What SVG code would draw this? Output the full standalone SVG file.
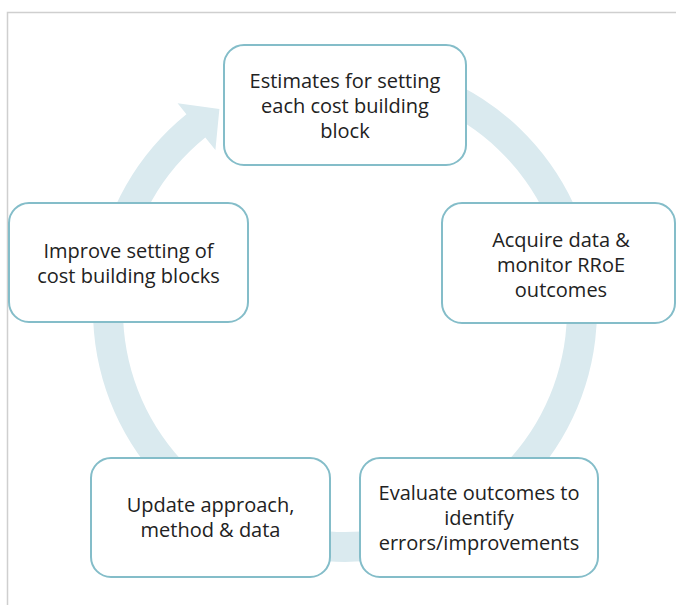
<svg xmlns="http://www.w3.org/2000/svg" width="676" height="605" viewBox="0 0 676 605">
  <style>
    .frame { fill: none; stroke: #cfcfcf; stroke-width: 1.5; }
    .ring { fill: #daeaef; stroke: none; }
    .box { fill: #ffffff; stroke: #84bdc9; stroke-width: 2; }
    .lbl { font-family: "Open Sans", "Noto Sans", sans-serif; font-size: 20px; fill: #222222; text-anchor: middle; }
  </style>
  <rect x="0" y="0" width="676" height="605" fill="#ffffff"/>
  <path class="frame" d="M7.5,606 L7.5,12.5 L677,12.5"/>
  <g id="connectors">
    <path class="ring" d="M258.81,73.20 A252,252 0 0 1 471,528.24 A252,252 0 0 1 186.41,114.16 L177.6,103.3 L219.4,109.0 L215.4,149.9 L205.29,137.47 A222,222 0 0 0 456,502.26 A222,222 0 0 0 269.07,101.39 Z"/>
  </g>
  <g id="node-estimates">
    <rect class="box" x="224" y="45" width="242" height="120" rx="20" ry="20"/>
    <text class="lbl" x="345" y="88">Estimates for setting</text>
    <text class="lbl" x="345" y="113">each cost building</text>
    <text class="lbl" x="345" y="138">block</text>
  </g>
  <g id="node-acquire">
    <rect class="box" x="442" y="203" width="233" height="120" rx="20" ry="20"/>
    <text class="lbl" x="561" y="247">Acquire data &amp;</text>
    <text class="lbl" x="561" y="272">monitor RRoE</text>
    <text class="lbl" x="561" y="297">outcomes</text>
  </g>
  <g id="node-evaluate">
    <rect class="box" x="360" y="458" width="238" height="119" rx="20" ry="20"/>
    <text class="lbl" x="479" y="500">Evaluate outcomes to</text>
    <text class="lbl" x="479" y="525">identify</text>
    <text class="lbl" x="479" y="550">errors/improvements</text>
  </g>
  <g id="node-update">
    <rect class="box" x="91" y="458" width="239" height="119" rx="20" ry="20"/>
    <text class="lbl" x="210.5" y="512">Update approach,</text>
    <text class="lbl" x="210.5" y="537">method &amp; data</text>
  </g>
  <g id="node-improve">
    <rect class="box" x="9" y="203" width="239" height="119" rx="20" ry="20"/>
    <text class="lbl" x="128.5" y="258">Improve setting of</text>
    <text class="lbl" x="128.5" y="283">cost building blocks</text>
  </g>
</svg>
